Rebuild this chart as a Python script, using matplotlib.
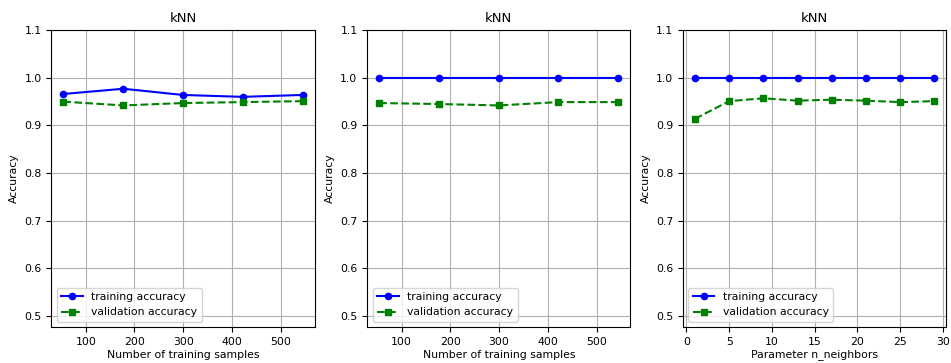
import numpy as np
import matplotlib
matplotlib.use('Agg')
import matplotlib.pyplot as plt

# learning curve data (panels 1 and 2)
train_sizes = [54, 177, 299, 422, 545]
lc1_train = [0.966, 0.977, 0.964, 0.960, 0.964]
lc1_valid = [0.950, 0.942, 0.947, 0.949, 0.951]
lc2_train = [1.0, 1.0, 1.0, 1.0, 1.0]
lc2_valid = [0.947, 0.945, 0.942, 0.949, 0.949]

# validation curve data (panel 3)
n_neighbors = [1, 5, 9, 13, 17, 21, 25, 29]
vc_train = [1.0, 1.0, 1.0, 1.0, 1.0, 1.0, 1.0, 1.0]
vc_valid = [0.914, 0.951, 0.957, 0.952, 0.954, 0.952, 0.949, 0.951]

plt.rcParams['font.size'] = 7.8

fig, axes = plt.subplots(1, 3, figsize=(9.51, 3.63), dpi=100)

panels = [
    (train_sizes, lc1_train, lc1_valid, 'Number of training samples'),
    (train_sizes, lc2_train, lc2_valid, 'Number of training samples'),
    (n_neighbors, vc_train, vc_valid, 'Parameter n_neighbors'),
]

for ax, (x, tr, va, xlabel) in zip(axes, panels):
    ax.plot(x, tr, color='blue', marker='o', markersize=4.5, label='training accuracy')
    ax.plot(x, va, color='green', linestyle='--', marker='s', markersize=4.5,
            label='validation accuracy')
    ax.grid(True)
    ax.set_title('kNN', fontsize=9.5)
    ax.set_xlabel(xlabel, labelpad=2)
    ax.set_ylabel('Accuracy')
    ax.set_ylim(0.477, 1.1)
    ax.set_yticks([0.5, 0.6, 0.7, 0.8, 0.9, 1.0, 1.1])
    ax.legend(loc='lower left')

axes[2].set_xticks([0, 5, 10, 15, 20, 25, 30])

plt.subplots_adjust(left=0.054, right=0.995, bottom=0.099, top=0.917, wspace=0.2)
plt.savefig('out.png')
